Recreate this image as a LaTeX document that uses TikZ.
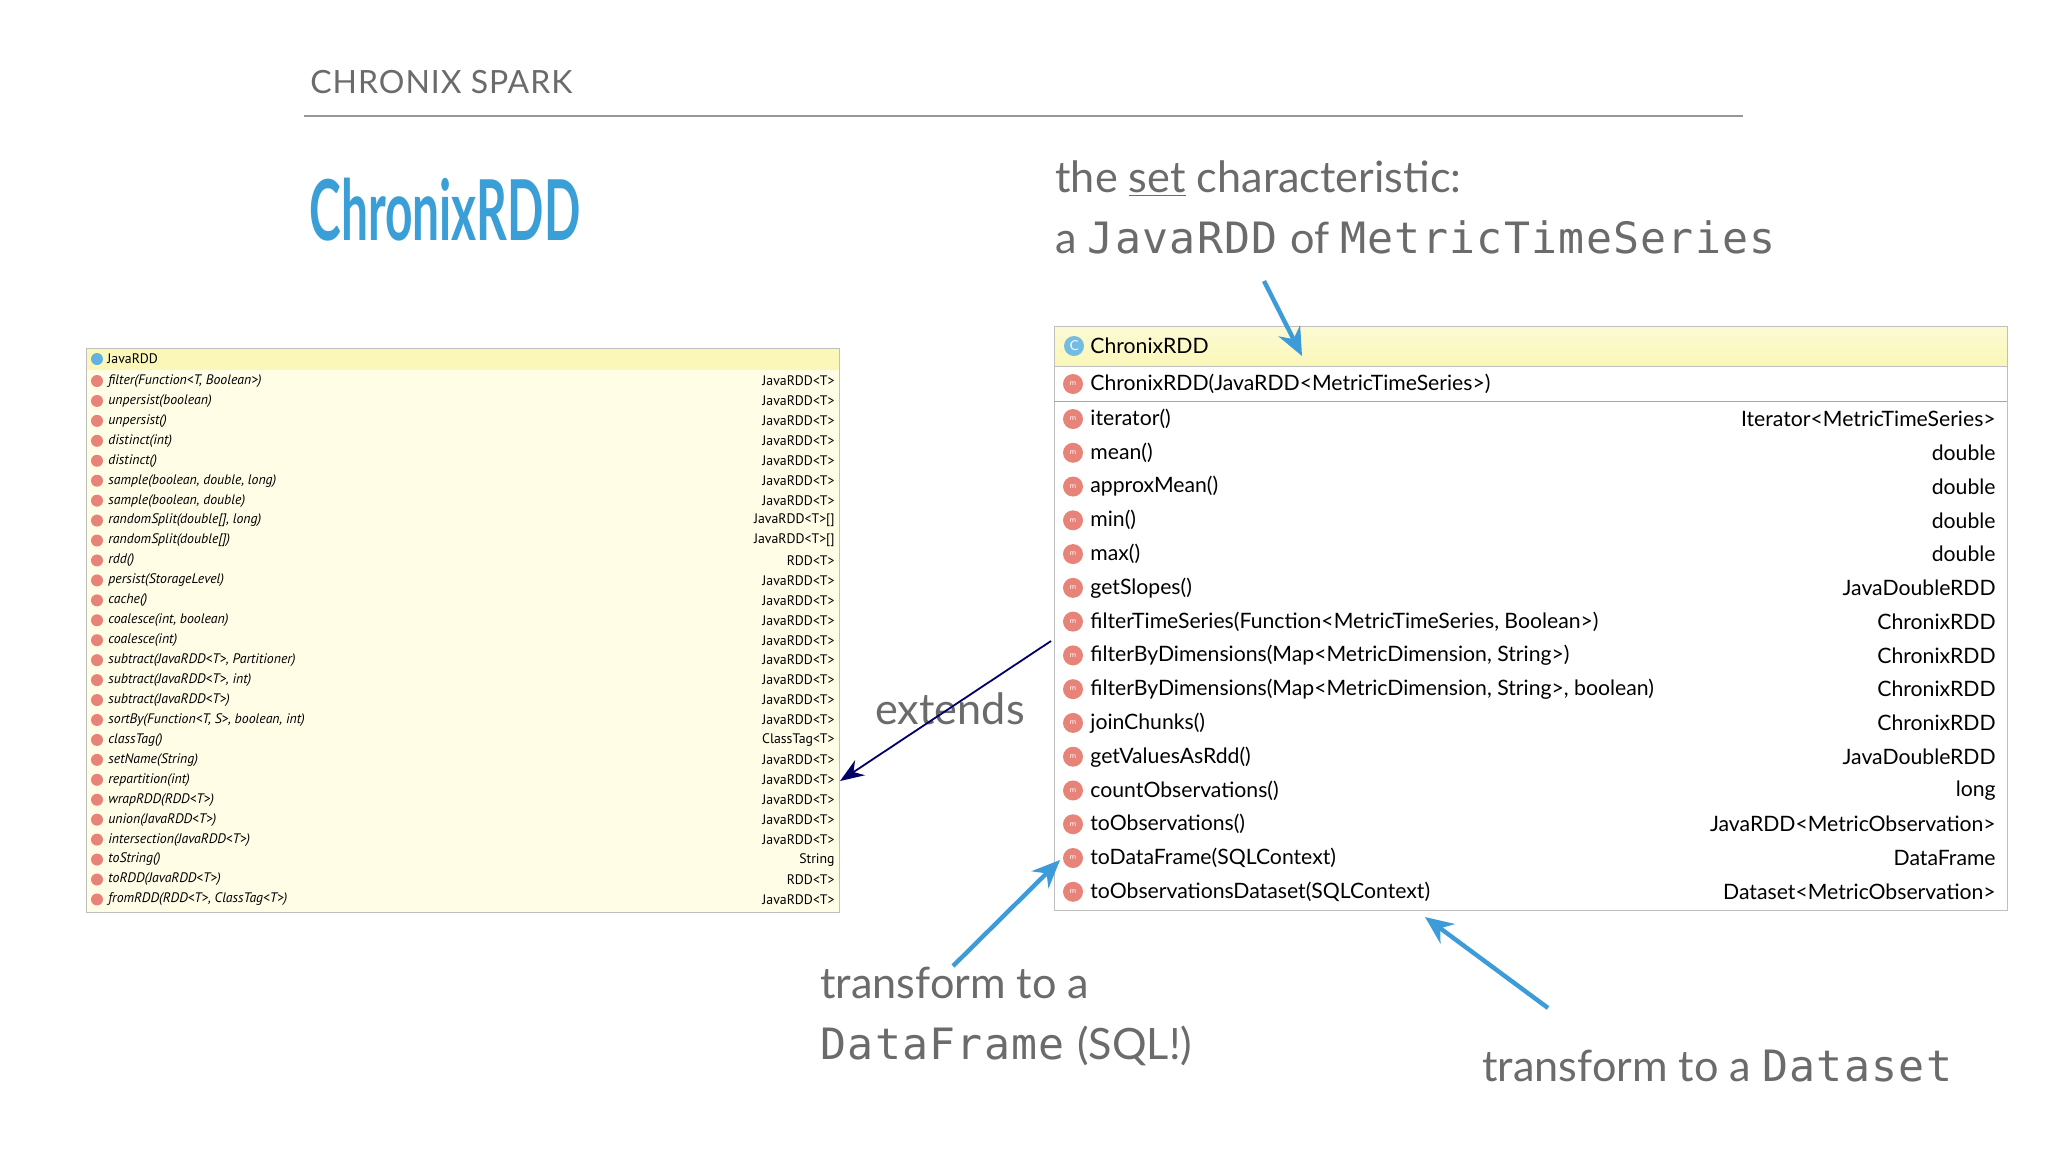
\documentclass[tikz,border=0pt]{standalone}
\usepackage{fontspec}
\setmainfont{Lato}
\setmonofont[Scale=1.0,LetterSpace=3]{DejaVu Sans Mono}
\newfontfamily\condfont{PT Sans}
\usetikzlibrary{arrows.meta}
\definecolor{txtgrey}{HTML}{6B6B6B}
\definecolor{blueacc}{HTML}{3A9FD6}
\definecolor{paneyel}{HTML}{FFFDE6}
\definecolor{headyel}{HTML}{FAF7B8}
\definecolor{iconpink}{HTML}{E8837A}
\definecolor{arrowblue}{HTML}{3C9BD8}
\tikzset{
  lrow/.style={anchor=west,inner sep=0pt,font=\condfont\itshape\fontsize{6.9}{7}\selectfont},
  lret/.style={anchor=east,inner sep=0pt,font=\condfont\fontsize{6.9}{7}\selectfont},
  rrow/.style={anchor=west,inner sep=0pt,font=\fontsize{10.6}{12}\selectfont},
  rret/.style={anchor=east,inner sep=0pt,font=\fontsize{10.6}{12}\selectfont},
  micon/.style={circle,fill=iconpink,inner sep=0pt,minimum size=#1,text=white,font=\sffamily\fontsize{4}{4}\selectfont},
  big/.style={anchor=base west,inner sep=0pt,text=txtgrey,font=\fontsize{21.6}{24}\selectfont},
  bluearrow/.style={draw=arrowblue,line width=2.2pt,-{Stealth[length=14pt,width=12pt]}},
}
\begin{document}
\begin{tikzpicture}[x=0.5pt,y=-0.5pt]
\useasboundingbox (0,0) rectangle (2048,1152);
\fill[white] (0,0) rectangle (2048,1152);
% title
\node[anchor=base west,inner sep=0pt,text=txtgrey,font=\fontsize{16}{18}\selectfont] (title) at (310,93) {\addfontfeature{LetterSpace=3}CHRONIX SPARK};
\draw[txtgrey!70,line width=1pt] (304,116) -- (1743,116);
\node[anchor=base west,inner sep=0pt,text=blueacc,font=\bfseries\fontsize{42}{44}\selectfont] (crdd) at (309,240) {\scalebox{0.57}[1]{ChronixRDD}};
% left pane
\fill[paneyel] (86,348) rectangle (839,912);
\fill[headyel] (86,348) rectangle (839,370);
\draw[black!25] (86,348) rectangle (839,912);
\node[circle,fill=blueacc!80,minimum size=6pt,inner sep=0pt] (licon) at (97,359) {};
\node[anchor=west,inner sep=0pt,font=\condfont\fontsize{6.9}{7}\selectfont] (lhead) at (107,359) {JavaRDD};
\foreach \n/\r [count=\i from 0] in {
 {filter(Function<T, Boolean>)}/{JavaRDD<T>},
 {unpersist(boolean)}/{JavaRDD<T>},
 {unpersist()}/{JavaRDD<T>},
 {distinct(int)}/{JavaRDD<T>},
 {distinct()}/{JavaRDD<T>},
 {sample(boolean, double, long)}/{JavaRDD<T>},
 {sample(boolean, double)}/{JavaRDD<T>},
 {randomSplit(double[], long)}/{JavaRDD<T>[]},
 {randomSplit(double[])}/{JavaRDD<T>[]},
 {rdd()}/{RDD<T>},
 {persist(StorageLevel)}/{JavaRDD<T>},
 {cache()}/{JavaRDD<T>},
 {coalesce(int, boolean)}/{JavaRDD<T>},
 {coalesce(int)}/{JavaRDD<T>},
 {subtract(JavaRDD<T>, Partitioner)}/{JavaRDD<T>},
 {subtract(JavaRDD<T>, int)}/{JavaRDD<T>},
 {subtract(JavaRDD<T>)}/{JavaRDD<T>},
 {sortBy(Function<T, S>, boolean, int)}/{JavaRDD<T>},
 {classTag()}/{ClassTag<T>},
 {setName(String)}/{JavaRDD<T>},
 {repartition(int)}/{JavaRDD<T>},
 {wrapRDD(RDD<T>)}/{JavaRDD<T>},
 {union(JavaRDD<T>)}/{JavaRDD<T>},
 {intersection(JavaRDD<T>)}/{JavaRDD<T>},
 {toString()}/{String},
 {toRDD(JavaRDD<T>)}/{RDD<T>},
 {fromRDD(RDD<T>, ClassTag<T>)}/{JavaRDD<T>}}{
  \pgfmathsetmacro\yy{381+19.94*\i}
  \node[micon=6pt] (li\i) at (97,\yy) {};
  \node[lrow] (ln\i) at (108,\yy) {\n};
  \node[lret] (lr\i) at (835,\yy) {\r};
}
% right pane
\fill[white] (1054,326) rectangle (2007,910);
\shade[top color=headyel!60,bottom color=headyel] (1054,326) rectangle (2007,366);
\draw[black!25] (1054,326) rectangle (2007,910);
\draw[black!25] (1054,366) -- (2007,366);
\draw[black!35] (1054,401) -- (2007,401);
\node[circle,fill=blueacc!70,minimum size=10pt,inner sep=0pt,text=white,font=\sffamily\fontsize{7}{7}\selectfont] (ricon) at (1074,346) {C};
\node[rrow] (rhead) at (1090,346) {ChronixRDD};
\node[micon=10pt] (rci) at (1073,384) {m};
\node[rrow] (rcons) at (1090,384) {ChronixRDD(JavaRDD<MetricTimeSeries>)};
\foreach \n/\r [count=\i from 0] in {
 {iterator()}/{Iterator<MetricTimeSeries>},
 {mean()}/{double},
 {approxMean()}/{double},
 {min()}/{double},
 {max()}/{double},
 {getSlopes()}/{JavaDoubleRDD},
 {filterTimeSeries(Function<MetricTimeSeries, Boolean>)}/{ChronixRDD},
 {filterByDimensions(Map<MetricDimension, String>)}/{ChronixRDD},
 {filterByDimensions(Map<MetricDimension, String>, boolean)}/{ChronixRDD},
 {joinChunks()}/{ChronixRDD},
 {getValuesAsRdd()}/{JavaDoubleRDD},
 {countObservations()}/{long},
 {toObservations()}/{JavaRDD<MetricObservation>},
 {toDataFrame(SQLContext)}/{DataFrame},
 {toObservationsDataset(SQLContext)}/{Dataset<MetricObservation>}}{
  \pgfmathsetmacro\yy{419+33.77*\i}
  \node[micon=10pt] (ri\i) at (1073,\yy) {m};
  \node[rrow] (rn\i) at (1090,\yy) {\n};
  \node[rret] (rr\i) at (1996,\yy) {\r};
}
% annotations
\node[big] (setA) at (1055,192) {the \underline{set} characteristic:};
\node[big] (setB) at (1055,253) {a \texttt{JavaRDD} of \texttt{MetricTimeSeries}};
\node[big] (ext) at (875,724) {extends};
\node[big] (tfA) at (820,998) {transform to a};
\node[big] (tfB) at (820,1059) {\texttt{DataFrame} (SQL!)};
\node[big] (tdA) at (1482,1081) {transform to a \texttt{Dataset}};
% arrows
\coordinate (extS) at (1051,641);
\coordinate (extE) at (840,781);
\draw[blue!40!black,line width=0.9pt,-{Stealth[length=12pt,width=9pt]}] (extS) -- (extE);
\coordinate (a1s) at (1264,281); \coordinate (a1e) at (1302,356);
\coordinate (a2s) at (953,966); \coordinate (a2e) at (1060,860);
\coordinate (a3s) at (1548,1008); \coordinate (a3e) at (1425,917);
\draw[bluearrow] (a1s) -- (a1e);
\draw[bluearrow] (a2s) -- (a2e);
\draw[bluearrow] (a3s) -- (a3e);
\end{tikzpicture}
\end{document}
